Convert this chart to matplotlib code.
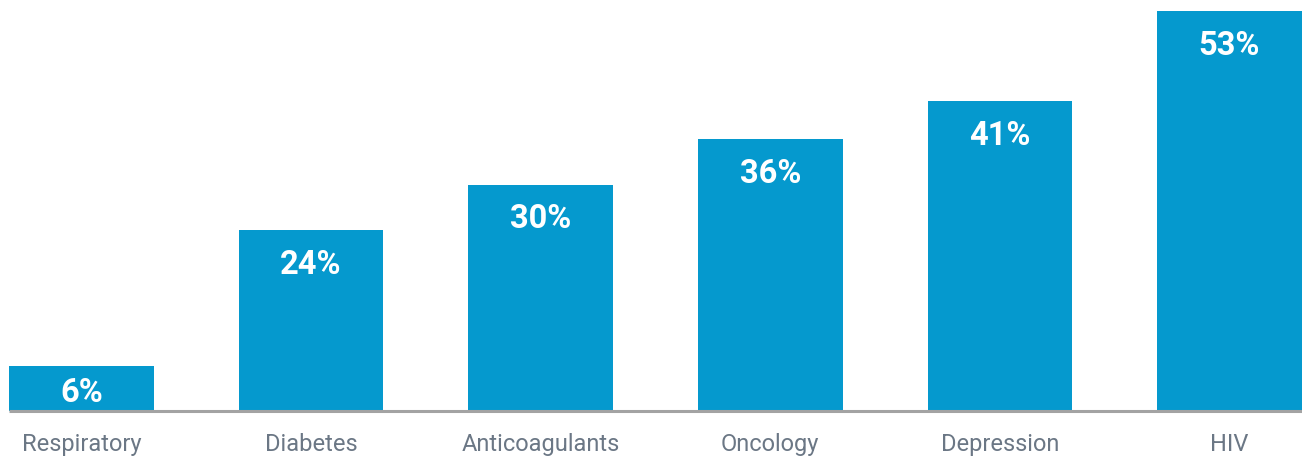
import matplotlib.pyplot as plt

categories = ['Respiratory', 'Diabetes', 'Anticoagulants', 'Oncology', 'Depression', 'HIV']
values = [6, 24, 30, 36, 41, 53]

bar_color = '#0599ce'
label_color = '#6b7785'
width = 0.63

fig = plt.figure(figsize=(13.02, 4.57), dpi=100)
ax = fig.add_axes([0, 46 / 457, 1, 1 - 46 / 457])

x = list(range(len(categories)))
ax.bar(x, values, width=width, color=bar_color, zorder=2)

# px per unit on each axis
px_x = 229.6
px_y = 7.55
ax.set_xlim(-81.5 / px_x, (1302 - 81.5) / px_x)
ax.set_ylim(0, 411 / px_y)

# grey baseline under the bars
ax.hlines(0, -width / 2, 5 + width / 2 + 1, color='#a3a3a3', linewidth=2.2, zorder=3, clip_on=False)

for xi, v, name in zip(x, values, categories):
    h_px = v * px_y
    off = 35 if h_px > 70 else h_px / 2 + 5
    ax.text(xi, v - off / px_y, f'{v}%', ha='center', va='center', color='white',
            fontsize=23.5, fontweight='bold', family='Roboto', zorder=4)
    ax.text(xi, -40 / px_y, name, ha='center', va='baseline', color=label_color,
            fontsize=17, family='Roboto', clip_on=False)

ax.axis('off')
fig.savefig('out.png', dpi=100)
